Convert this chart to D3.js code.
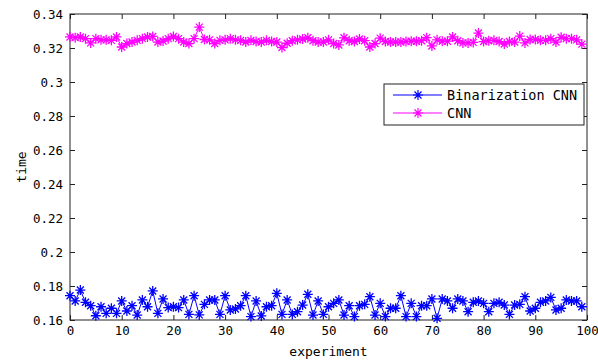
<!DOCTYPE html>
<html>
<head>
<meta charset="utf-8">
<script src="https://cdn.jsdelivr.net/npm/d3@7"></script>
<style>
  body { margin: 0; background: #fff; }
  svg { display: block; }
  .tick text { font-family: "DejaVu Sans Mono", monospace; font-size: 12.5px; fill: #000; }
</style>
</head>
<body>
<svg id="chart" width="598" height="364"></svg>
<script>
// series values, one point per experiment 0..99
const binarizationCnn = [
  0.1743, 0.1712, 0.1776, 0.1704, 0.1684, 0.1625, 0.1678, 0.1639, 0.1669, 0.1639,
  0.1712, 0.1653, 0.1684, 0.1629, 0.1718, 0.1678, 0.1771, 0.1639, 0.1724, 0.1673,
  0.1678, 0.1673, 0.1718, 0.1633, 0.1743, 0.1630, 0.1692, 0.1718, 0.1718, 0.1633,
  0.1743, 0.1659, 0.1665, 0.1684, 0.1743, 0.1620, 0.1712, 0.1624, 0.1678, 0.1684,
  0.1757, 0.1633, 0.1718, 0.1633, 0.1649, 0.1688, 0.1751, 0.1629, 0.1712, 0.1633,
  0.1678, 0.1698, 0.1718, 0.1629, 0.1684, 0.1620, 0.1684, 0.1692, 0.1737, 0.1629,
  0.1698, 0.1620, 0.1669, 0.1669, 0.1743, 0.1620, 0.1698, 0.1620, 0.1684, 0.1684,
  0.1724, 0.1610, 0.1724, 0.1712, 0.1669, 0.1724, 0.1712, 0.1649, 0.1704, 0.1712,
  0.1698, 0.1649, 0.1698, 0.1704, 0.1688, 0.1633, 0.1688, 0.1692, 0.1737, 0.1653,
  0.1669, 0.1704, 0.1712, 0.1733, 0.1659, 0.1669, 0.1718, 0.1712, 0.1712, 0.1678
];
const cnn = [
  0.3265, 0.3261, 0.3265, 0.3255, 0.3230, 0.3255, 0.3248, 0.3248, 0.3245, 0.3265,
  0.3206, 0.3226, 0.3235, 0.3245, 0.3255, 0.3265, 0.3268, 0.3235, 0.3241, 0.3255,
  0.3268, 0.3255, 0.3235, 0.3226, 0.3255, 0.3323, 0.3250, 0.3248, 0.3226, 0.3245,
  0.3248, 0.3255, 0.3248, 0.3245, 0.3235, 0.3245, 0.3238, 0.3235, 0.3245, 0.3238,
  0.3235, 0.3203, 0.3228, 0.3243, 0.3248, 0.3253, 0.3260, 0.3243, 0.3235, 0.3235,
  0.3248, 0.3226, 0.3218, 0.3260, 0.3243, 0.3238, 0.3253, 0.3243, 0.3206, 0.3226,
  0.3258, 0.3238, 0.3235, 0.3235, 0.3235, 0.3238, 0.3240, 0.3240, 0.3243, 0.3261,
  0.3212, 0.3248, 0.3240, 0.3240, 0.3265, 0.3243, 0.3230, 0.3230, 0.3233, 0.3288,
  0.3238, 0.3243, 0.3245, 0.3238, 0.3224, 0.3238, 0.3235, 0.3270, 0.3230, 0.3250,
  0.3250, 0.3245, 0.3245, 0.3255, 0.3235, 0.3263, 0.3255, 0.3255, 0.3248, 0.3223
];
const seriesNames = ['Binarization CNN', 'CNN'];
const seriesColors = ['#0000ff', '#ff00ff'];
const xTicks = [0, 10, 20, 30, 40, 50, 60, 70, 80, 90, 100];
const yTicks = [0.16, 0.18, 0.2, 0.22, 0.24, 0.26, 0.28, 0.3, 0.32, 0.34];

const margin = { top: 14, left: 70, right: 11, bottom: 44 };
const W = 598, H = 364;
const svg = d3.select('#chart');

const x_scale = d3.scaleLinear().domain([0, 100]).range([margin.left, W - margin.right]);
const y_scale = d3.scaleLinear().domain([0.16, 0.34]).range([H - margin.bottom, margin.top]);

const fmt = d => String(+d.toFixed(2));

// axes, MATLAB style: ticks pointing inward on all four sides
svg.append('g')
  .attr('transform', `translate(0, ${H - margin.bottom})`)
  .call(d3.axisBottom(x_scale).tickValues(xTicks).tickSizeInner(-5).tickSizeOuter(0).tickPadding(6));
svg.append('g')
  .attr('transform', `translate(0, ${margin.top})`)
  .call(d3.axisTop(x_scale).tickValues(xTicks).tickSizeInner(-5).tickSizeOuter(0).tickFormat(''));
svg.append('g')
  .attr('transform', `translate(${margin.left}, 0)`)
  .call(d3.axisLeft(y_scale).tickValues(yTicks).tickSizeInner(-5).tickSizeOuter(0).tickPadding(7).tickFormat(fmt));
svg.append('g')
  .attr('transform', `translate(${W - margin.right}, 0)`)
  .call(d3.axisRight(y_scale).tickValues(yTicks).tickSizeInner(-5).tickSizeOuter(0).tickFormat(''));
svg.selectAll('.domain').remove();
svg.selectAll('.tick line').attr('stroke', '#222');

svg.append('rect')
  .attr('x', margin.left).attr('y', margin.top)
  .attr('width', W - margin.left - margin.right)
  .attr('height', H - margin.top - margin.bottom)
  .attr('fill', 'none').attr('stroke', '#222');

// axis labels
svg.append('text')
  .attr('x', (margin.left + W - margin.right) / 2).attr('y', 356)
  .attr('text-anchor', 'middle')
  .style('font-family', '"DejaVu Sans Mono", monospace').style('font-size', '13px')
  .text('experiment');
svg.append('text')
  .attr('transform', `translate(26, ${(margin.top + H - margin.bottom) / 2}) rotate(-90)`)
  .attr('text-anchor', 'middle')
  .style('font-family', '"DejaVu Sans Mono", monospace').style('font-size', '13px')
  .text('time');

const star = 'M-5,0H5M0,-5V5M-3.5,-3.5L3.5,3.5M-3.5,3.5L3.5,-3.5';
const line = d3.line().x((d, i) => x_scale(i)).y(d => y_scale(d));

[binarizationCnn, cnn].forEach((data, k) => {
  const g = svg.append('g');
  g.append('path').datum(data)
    .attr('d', line).attr('fill', 'none')
    .attr('stroke', seriesColors[k]).attr('stroke-width', 1);
  g.selectAll('.pt').data(data).enter()
    .append('path')
    .attr('d', star)
    .attr('transform', (d, i) => `translate(${x_scale(i)}, ${y_scale(d)})`)
    .attr('stroke', seriesColors[k]).attr('stroke-width', 1.3).attr('fill', 'none');
});

// legend
const lg = svg.append('g').attr('transform', 'translate(384, 84)');
lg.append('rect').attr('width', 200).attr('height', 41)
  .attr('fill', '#fff').attr('stroke', '#222');
seriesNames.forEach((name, k) => {
  const yy = 11 + k * 18;
  lg.append('line').attr('x1', 9).attr('x2', 58).attr('y1', yy).attr('y2', yy)
    .attr('stroke', seriesColors[k]);
  lg.append('path').attr('d', star).attr('transform', `translate(34, ${yy})`)
    .attr('stroke', seriesColors[k]).attr('stroke-width', 1.2).attr('fill', 'none');
  lg.append('text').attr('x', 63).attr('y', yy).attr('dy', '0.35em')
    .style('font-family', '"DejaVu Sans Mono", monospace').style('font-size', '13.5px')
    .text(name);
});
</script>
</body>
</html>
